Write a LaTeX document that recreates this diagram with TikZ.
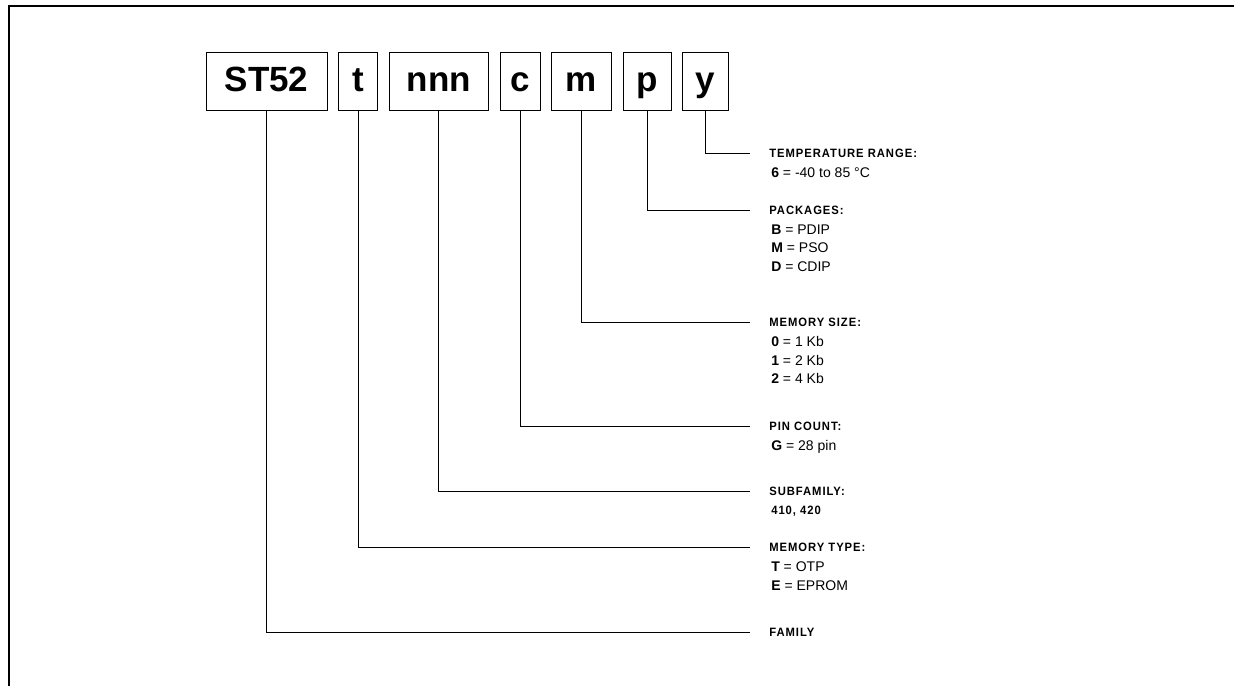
\documentclass[tikz,border=0pt]{standalone}
\usepackage{fontspec}
\setmainfont{Liberation Sans}
\newfontfamily\headfont{Liberation Sans}[FakeStretch=0.93,LetterSpace=8]
\usetikzlibrary{positioning}

\begin{document}
\begin{tikzpicture}[
    x=0.025cm,y=-0.025cm,
    part/.style={draw,line width=0.5pt,minimum height=1.45cm,inner sep=0pt,text height=17.8pt,text depth=2.2pt,font=\bfseries\fontsize{24.9}{30}\selectfont},
    field/.style={anchor=west,inner xsep=0.475cm,inner ysep=0pt,text height=6.2pt,text depth=0pt,font=\headfont\bfseries\fontsize{8.6}{12}\selectfont},
    codes/.style={align=left,inner sep=0pt,font=\fontsize{9.96}{13.16}\selectfont},
    codesbf/.style={codes,font=\headfont\bfseries\fontsize{8.6}{13.16}\selectfont},
    link/.style={line width=0.5pt}
  ]
  \useasboundingbox (0,0) rectangle (1234,686);
  \draw[line width=1.4pt] (9,686) -- (9,6) -- (1234,6);
  % part number fields
  \node[part,minimum width=3.02cm] (pfam) at (266.5,81) {ST52};
  \node[part,minimum width=0.98cm,right=0.27cm of pfam] (ptype) {t};
  \node[part,minimum width=2.48cm,right=0.27cm of ptype] (psub) {nnn};
  \node[part,minimum width=1.0cm,right=0.27cm of psub] (ppin) {c};
  \node[part,minimum width=1.5cm,right=0.27cm of ppin] (pmem) {m};
  \node[part,minimum width=1.2cm,right=0.27cm of pmem] (ppkg) {p};
  \node[part,minimum width=1.15cm,right=0.27cm of ppkg] (ptemp) {y};
  % explanations
  \node[field] (temp) at (750,153) {TEMPERATURE RANGE:};
  \node[codes,below right=0.245cm and 0.525cm of temp.south west] (tempv) {\textbf{6} = -40 to 85 °C};
  \node[field] (pkg) at (750,210) {PACKAGES:};
  \node[codes,below right=0.245cm and 0.525cm of pkg.south west] (pkgv) {\textbf{B} = PDIP\\ \textbf{M} = PSO\\ \textbf{D} = CDIP};
  \node[field] (memsize) at (750,322) {MEMORY SIZE:};
  \node[codes,below right=0.245cm and 0.525cm of memsize.south west] (memsizev) {\textbf{0} = 1 Kb\\ \textbf{1} = 2 Kb\\ \textbf{2} = 4 Kb};
  \node[field] (pins) at (750,426) {PIN COUNT:};
  \node[codes,below right=0.245cm and 0.525cm of pins.south west] (pinsv) {\textbf{G} = 28 pin};
  \node[field] (subfam) at (750,491) {SUBFAMILY:};
  \node[codesbf,below right=0.245cm and 0.525cm of subfam.south west] (subfamv) {410, 420};
  \node[field] (memtype) at (750,547) {MEMORY TYPE:};
  \node[codes,below right=0.245cm and 0.525cm of memtype.south west] (memtypev) {\textbf{T} = OTP\\ \textbf{E} = EPROM};
  \node[field] (family) at (750,632) {FAMILY};
  % leaders
  \draw[link] (ptemp.south) |- (temp.west);
  \draw[link] (ppkg.south) |- (pkg.west);
  \draw[link] (pmem.south) |- (memsize.west);
  \draw[link] (ppin.south) |- (pins.west);
  \draw[link] (psub.south) |- (subfam.west);
  \draw[link] (ptype.south) |- (memtype.west);
  \draw[link] (pfam.south) |- (family.west);
\end{tikzpicture}
\end{document}
